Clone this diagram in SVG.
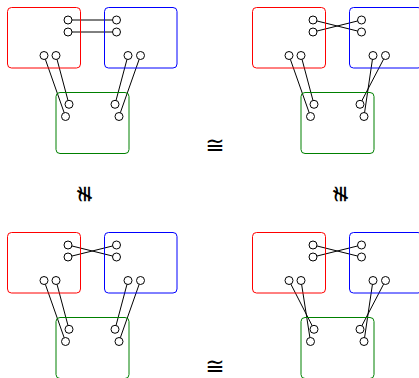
<svg xmlns="http://www.w3.org/2000/svg" width="419" height="378" viewBox="0 0 419 378">
<style>
.box{fill:none;stroke-width:1}
.r{stroke:#ff0000}
.b{stroke:#0000ff}
.g{stroke:#008000}
.port{fill:#fff;stroke:#000;stroke-width:1}
.wire{stroke:#000;stroke-width:1;fill:none}
.sym{font-family:"DejaVu Sans",sans-serif;font-size:23px;fill:#000;text-anchor:middle;dominant-baseline:central}
</style>
<defs>
<g id="redNode"><rect class="box r" x="7.5" y="7.5" width="73" height="60.5" rx="4"/><circle class="port" cx="68" cy="20" r="4"/><circle class="port" cx="68" cy="32" r="4"/><circle class="port" cx="44" cy="55.5" r="4"/><circle class="port" cx="56" cy="55.5" r="4"/></g>
<g id="blueNode"><rect class="box b" x="104.5" y="7.5" width="72.5" height="60.5" rx="4"/><circle class="port" cx="116.5" cy="20" r="4"/><circle class="port" cx="116.5" cy="32" r="4"/><circle class="port" cx="128" cy="55.5" r="4"/><circle class="port" cx="140.5" cy="55.5" r="4"/></g>
<g id="greenNode"><rect class="box g" x="56" y="92.5" width="73" height="61" rx="4"/><circle class="port" cx="69" cy="104.3" r="4"/><circle class="port" cx="65.5" cy="116.5" r="4"/><circle class="port" cx="115" cy="104.3" r="4"/><circle class="port" cx="119" cy="116.5" r="4"/></g>
</defs>
<g id="connectors">
<g transform="translate(0,0)">
<path class="wire" d="M68,20 L116.5,20 M68,32 L116.5,32 M44,55.5 L65.5,116.5 M56,55.5 L69,104.3 M128,55.5 L115,104.3 M140.5,55.5 L119,116.5"/>
</g>
<g transform="translate(245,0)">
<path class="wire" d="M68,20 L116.5,32 M68,32 L116.5,20 M44,55.5 L65.5,116.5 M56,55.5 L69,104.3 M128,55.5 L119,116.5 M140.5,55.5 L115,104.3"/>
</g>
<g transform="translate(0,225)">
<path class="wire" d="M68,20 L116.5,32 M68,32 L116.5,20 M44,55.5 L65.5,116.5 M56,55.5 L69,104.3 M128,55.5 L115,104.3 M140.5,55.5 L119,116.5"/>
</g>
<g transform="translate(245,225)">
<path class="wire" d="M68,20 L116.5,32 M68,32 L116.5,20 M44,55.5 L69,104.3 M56,55.5 L65.5,116.5 M128,55.5 L119,116.5 M140.5,55.5 L115,104.3"/>
</g>
</g>
<g id="tl-red"><use href="#redNode"/></g>
<g id="tl-blue"><use href="#blueNode"/></g>
<g id="tl-green"><use href="#greenNode"/></g>
<g id="tr-red" transform="translate(245,0)"><use href="#redNode"/></g>
<g id="tr-blue" transform="translate(245,0)"><use href="#blueNode"/></g>
<g id="tr-green" transform="translate(245,0)"><use href="#greenNode"/></g>
<g id="bl-red" transform="translate(0,225)"><use href="#redNode"/></g>
<g id="bl-blue" transform="translate(0,225)"><use href="#blueNode"/></g>
<g id="bl-green" transform="translate(0,225)"><use href="#greenNode"/></g>
<g id="br-red" transform="translate(245,225)"><use href="#redNode"/></g>
<g id="br-blue" transform="translate(245,225)"><use href="#blueNode"/></g>
<g id="br-green" transform="translate(245,225)"><use href="#greenNode"/></g>
<g id="relations">
<text class="sym" x="215" y="145">≅</text>
<text class="sym" x="215" y="366">≅</text>
<text class="sym" transform="translate(84,194) rotate(-90)">≇</text>
<text class="sym" transform="translate(340,194) rotate(-90)">≇</text>
</g>
</svg>
